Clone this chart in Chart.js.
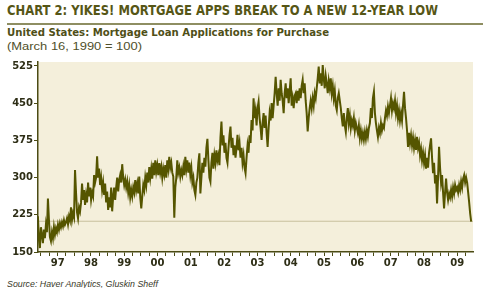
<!DOCTYPE html>
<html>
<head>
<meta charset="utf-8">
<script src="https://cdn.jsdelivr.net/npm/chart.js@4.4.1/dist/chart.umd.min.js"></script>
<style>
  html, body { margin:0; padding:0; background:#ffffff; }
  body { width:486px; height:288px; position:relative; overflow:hidden; }
  .txt { position:absolute; left:7px; white-space:nowrap; transform-origin:0 0; }
  #title { top:3px; font:bold 13.5px/14px "DejaVu Sans",Arial,sans-serif; color:#565616; }
  #rule { position:absolute; left:7px; top:23px; width:476px; height:2px; background:#8e8e62; }
  #sub1 { top:28px; font:bold 10px/10.5px "DejaVu Sans",Arial,sans-serif; color:#4f4f17; }
  #sub2 { top:41px; font:normal 10.5px/10.5px "Liberation Sans",Arial,sans-serif; color:#4f4f2a; }
  #source { top:279px; font:italic 9.5px/9.5px "Liberation Sans",Arial,sans-serif; color:#3a3a2a; }
  #wrap { position:absolute; left:0; top:55px; width:486px; height:215px; }
</style>
</head>
<body>
<div id="title" class="txt" data-w="431">CHART 2: YIKES! MORTGAGE APPS BREAK TO A NEW 12-YEAR LOW</div>
<div id="rule"></div>
<div id="sub1" class="txt" data-w="322">United States: Mortgage Loan Applications for Purchase</div>
<div id="sub2" class="txt" data-w="135">(March 16, 1990 = 100)</div>
<div id="wrap"><canvas id="c" width="486" height="215"></canvas></div>
<div id="source" class="txt" data-w="151">Source: Haver Analytics, Gluskin Sheff</div>
<script>
// ---- data ----
const seriesStart = '1996-11-28';   // first observation
const stepDays = 11;                // spacing between readings
const values = [
222,175,158,200,185,168,195,178,205,190,258,215,180,172,190,178,200,185,198,190,
205,195,208,200,210,202,214,205,210,218,206,222,214,240,215,228,220,315,270,230,
218,240,232,250,288,255,275,245,265,250,290,262,280,255,270,262,305,290,300,343,
300,318,285,300,275,290,265,288,250,272,235,260,240,280,232,262,280,
255,280,300,272,295,305,290,327,300,285,
296,280,292,270,285,260,275,262,280,270,
295,275,288,268,302,260,238,262,285,275,
300,285,310,290,321,300,318,298,330,305,
335,312,325,305,329,310,322,300,318,306,
325,300,335,318,342,320,330,310,302,219,
280,300,335,310,320,302,315,305,322,305,
342,318,335,310,330,305,320,290,300,275,
265,290,300,330,349,
268,300,330,310,340,322,360,378,335,300,
292,330,350,318,345,330,355,335,345,325,
380,413,365,385,350,370,340,330,360,385,
403,360,380,345,365,340,360,386,355,370,
340,360,330,345,320,309,340,365,350,385,
370,416,395,460,420,435,405,440,453,420,
400,376,410,430,400,425,390,362,400,430,
415,450,420,445,470,503,470,445,480,455,
497,470,455,430,470,490,460,480,450,
475,500,445,460,440,465,470,450,475,455,
480,460,485,497,470,490,455,430,393,420,
440,455,440,460,445,470,460,480,500,524,
490,510,485,527,500,480,505,490,470,495,
480,500,470,485,460,475,445,436,460,470,
455,440,420,403,430,405,392,420,440,410,
425,400,415,405,420,395,410,400,390,405,
380,395,378,390,376,392,378,395,383,400,
410,440,420,460,473,430,
410,395,382,400,390,410,395,405,400,420,
435,425,443,430,445,460,435,450,440,455,
430,445,420,435,415,430,415,445,473,440,
420,395,362,390,370,385,365,380,360,375,
356,382,360,370,345,358,335,350,330,345,
318,340,320,350,365,379,340,309,330,288,
305,248,300,362,320,290,305,270,238,270,
298,270,255,268,260,275,262,280,268,285,
275,280,270,285,275,292,280,298,305,290,
300,290,270,250,228,211
];
const yearTicks  = [1997,1998,1999,2000,2001,2002,2003,2004,2005,2006,2007,2008,2009];
const yearLabels = ['97','98','99','00','01','02','03','04','05','06','07','08','09'];
const yTicks = [150,225,300,375,450,525];
const refLevel = 212;   // the 12-year-low reference line

// ---- helpers ----
function toYear(d) {
  const y = d.getUTCFullYear();
  const a = Date.UTC(y,0,1), b = Date.UTC(y+1,0,1);
  return y + (d.getTime()-a)/(b-a);
}
const start = new Date(seriesStart + 'T00:00:00Z');
const points = values.map((v,i) => {
  const d = new Date(start.getTime() + i*stepDays*86400000);
  return {x: toYear(d), y: v};
});
const xMin = 1996.91, xMax = 2009.973;
const quarterTicks = [];
yearTicks.forEach(y => { [0,0.25,0.5,0.75].forEach(q => quarterTicks.push(y+q)); });

const olive = '#4b4b14';
const bgPlugin = {
  id:'bg',
  beforeDraw(chart) {
    const {ctx, chartArea:a} = chart;
    ctx.save();
    ctx.fillStyle = '#F4EFDB';
    ctx.fillRect(a.left, a.top, a.right-a.left, a.bottom-a.top);
    ctx.restore();
  }
};

new Chart(document.getElementById('c'), {
  type:'line',
  data:{
    datasets:[
      { data: points, borderColor:'#555500', borderWidth:2, pointRadius:0, tension:0, order:1 },
      { data: [{x:xMin,y:refLevel},{x:xMax,y:refLevel}], borderColor:'#c8bf9c', borderWidth:1, pointRadius:0, order:2 }
    ]
  },
  options:{
    responsive:false, animation:false, devicePixelRatio:1,
    layout:{ padding:{ left:0, top:7, right:13, bottom:0 } },
    plugins:{ legend:{display:false}, tooltip:{enabled:false} },
    scales:{
      x:{
        type:'linear', min:xMin, max:xMax,
        afterBuildTicks(s){ s.ticks = quarterTicks.map(v => ({value:v})); },
        afterFit(s){ s.height = 18; },
        border:{ display:true, color:olive, width:1.5 },
        grid:{ display:true, drawOnChartArea:false, drawTicks:true, tickLength:4, color:olive, lineWidth:1 },
        ticks:{
          autoSkip:false, maxRotation:0, minRotation:0, padding:1,
          color:'#2e2e16', font:{ family:'"DejaVu Sans"', weight:'bold', size:10 },
          callback(v){
            const f = v - Math.floor(v);
            if (Math.abs(f-0.5) < 1e-6) {
              const i = yearTicks.indexOf(Math.floor(v));
              return i >= 0 ? yearLabels[i] : '';
            }
            return '';
          }
        }
      },
      y:{
        type:'linear', min:150, max:533,
        afterBuildTicks(s){ s.ticks = yTicks.map(v => ({value:v})); },
        afterFit(s){ s.width = 38; },
        border:{ display:true, color:olive, width:1.5 },
        grid:{ display:true, drawOnChartArea:false, drawTicks:true, tickLength:4, color:olive, lineWidth:1 },
        ticks:{ padding:1, color:'#2e2e16', font:{ family:'"DejaVu Sans"', weight:'bold', size:10 } }
      }
    }
  },
  plugins:[bgPlugin]
});

// fit header/footer text widths to the reference
document.querySelectorAll('.txt').forEach(el => {
  const w = el.getBoundingClientRect().width;
  const target = parseFloat(el.dataset.w);
  if (w > 0) el.style.transform = 'scaleX(' + (target/w).toFixed(4) + ')';
});
</script>
</body>
</html>
